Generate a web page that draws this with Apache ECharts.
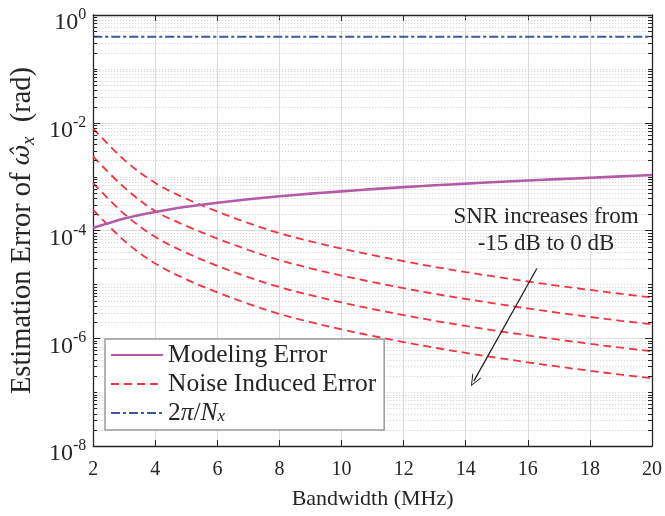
<!DOCTYPE html>
<html><head><meta charset="utf-8">
<script src="https://cdn.jsdelivr.net/npm/echarts@6/dist/echarts.min.js"></script>
<style>html,body{margin:0;padding:0;background:#fff}#c{width:665px;height:516px}</style>
</head><body><div id="c"></div>
<script>
// ---- data ----
const bandwidth = [2,3,4,5,6,7,8,9,10,11,12,13,14,15,16,17,18,19,20];
const modelingError = [1.12e-4,1.67e-4,2.21e-4,2.75e-4,3.28e-4,3.80e-4,4.32e-4,4.83e-4,5.33e-4,5.85e-4,6.38e-4,6.90e-4,7.42e-4,7.95e-4,8.48e-4,9.00e-4,9.52e-4,1.01e-3,1.07e-3];
const noiseSnrM15 = [7.80e-3,2.05e-3,7.59e-4,3.88e-4,2.25e-4,1.374e-4,8.91e-5,6.30e-5,4.61e-5,3.49e-5,2.69e-5,2.11e-5,1.69e-5,1.374e-5,1.13e-5,9.4e-6,7.89e-6,6.68e-6,5.71e-6];
const noiseSnrM10 = [2.34e-3,6.31e-4,2.29e-4,1.216e-4,7.08e-5,4.35e-5,2.82e-5,1.99e-5,1.459e-5,1.104e-5,8.49e-6,6.67e-6,5.35e-6,4.35e-6,3.57e-6,2.97e-6,2.49e-6,2.11e-6,1.82e-6];
const noiseSnrM5 = [7.59e-4,2.02e-4,7.59e-5,3.85e-5,2.21e-5,1.36e-5,8.91e-6,6.30e-6,4.61e-6,3.49e-6,2.69e-6,2.11e-6,1.69e-6,1.374e-6,1.13e-6,9.4e-7,7.89e-7,6.68e-7,5.75e-7];
const noiseSnr0 = [2.41e-4,6.46e-5,2.43e-5,1.236e-5,7.11e-6,4.35e-6,2.82e-6,1.99e-6,1.459e-6,1.104e-6,8.49e-7,6.67e-7,5.35e-7,4.35e-7,3.57e-7,2.97e-7,2.49e-7,2.11e-7,1.82e-7];
const boundValue = 0.3927; // 2*pi/N_x
const xTicks = [2,4,6,8,10,12,14,16,18,20];
const yTickExponents = [0,-2,-4,-6,-8];
const arrowFrom = [16.29, 1.97e-5];
const arrowTo = [14.26, 1.6e-7];

// ---- chart ----
const FONT = "'Liberation Serif','Times New Roman',serif";
const TXT = '#262626';
const xMin = xTicks[0], xMax = xTicks[xTicks.length-1];
const yMinExp = Math.min(...yTickExponents), yMaxExp = Math.max(...yTickExponents);

// decoration lists (grid lines / ticks) built from the tick exponents
const yDecor = [];
for (let e = yMinExp; e <= yMaxExp; e++) {
  const major = yTickExponents.includes(e) ? 1 : 0;
  yDecor.push([xMin, Math.pow(10, e), major]);
  if (e < yMaxExp) for (let k = 2; k <= 9; k++) yDecor.push([xMin, k * Math.pow(10, e), 0]);
}
const pair = arr => bandwidth.map((b, i) => [b, arr[i]]);

function renderGrid(params, api) {
  const v = api.value(1), major = api.value(2);
  if (major && (v === Math.pow(10, yMinExp) || v === Math.pow(10, yMaxExp))) return null;
  const p1 = api.coord([xMin, v]), p2 = api.coord([xMax, v]);
  const y = Math.round(p1[1]) + 0.5;
  return {type:'line', silent:true, shape:{x1:p1[0], y1:y, x2:p2[0], y2:y},
    style: major ? {stroke:'#dcdcdc', lineWidth:1} : {stroke:'#cdcdcd', lineWidth:1, lineDash:[1,2]}};
}
function renderTicks(params, api) {
  const v = api.value(1), major = api.value(2);
  const len = major ? 7 : 4;
  const pl = api.coord([xMin, v]), pr = api.coord([xMax, v]);
  const y = Math.round(pl[1]) + 0.5;
  return {type:'group', silent:true, children:[
    {type:'line', shape:{x1:pl[0], y1:y, x2:pl[0]+len, y2:y}, style:{stroke:TXT, lineWidth:1}},
    {type:'line', shape:{x1:pr[0], y1:y, x2:pr[0]-len, y2:y}, style:{stroke:TXT, lineWidth:1}}
  ]};
}

const RED = '#f5333f', PURPLE = '#b45aa8', BLUE = '#3d56a6';
const redSeries = [noiseSnrM15, noiseSnrM10, noiseSnrM5, noiseSnr0].map(arr => ({
  name:'Noise Induced Error', type:'line', data:pair(arr), symbol:'none', smooth:0.35, z:3,
  lineStyle:{color:RED, width:1.8, type:[8,5]}, itemStyle:{color:RED}
}));

const chevron = 'path://M5,0 L10,12 L9,12 L5,2.5 L1,12 L0,12 Z';

const option = {
  animation:false,
  backgroundColor:'#fff',
  grid:{left:92, right:13, top:15, bottom:70, containLabel:false},
  xAxis:[{
    type:'value', min:xMin, max:xMax, interval:2, position:'bottom',
    axisLine:{show:true, onZero:false, lineStyle:{color:TXT, width:1.3}},
    axisTick:{show:true, inside:true, length:6, lineStyle:{color:TXT, width:1}},
    splitLine:{show:true, lineStyle:{color:'#dcdcdc', width:1}},
    axisLabel:{color:TXT, fontFamily:FONT, fontSize:20, margin:14},
    name:'Bandwidth (MHz)', nameLocation:'middle', nameGap:42,
    nameTextStyle:{color:TXT, fontFamily:FONT, fontSize:22}
  },{
    type:'value', min:xMin, max:xMax, interval:2, position:'top',
    axisLine:{show:true, onZero:false, lineStyle:{color:TXT, width:1.3}},
    axisTick:{show:true, inside:true, length:6, lineStyle:{color:TXT, width:1}},
    splitLine:{show:false}, axisLabel:{show:false}
  }],
  yAxis:[{
    type:'log', logBase:10, min:Math.pow(10,yMinExp), max:Math.pow(10,yMaxExp), splitNumber:8, position:'left',
    axisLine:{show:true, onZero:false, lineStyle:{color:TXT, width:1.3}},
    axisTick:{show:false}, splitLine:{show:false}, minorTick:{show:false},
    axisLabel:{margin:7, padding:[12,0,0,0], formatter: v => {
      const e = Math.round(Math.log10(v));
      return yTickExponents.includes(e) ? '{b|10}{e|' + e + '}' : '';
    }, rich:{
      b:{fontFamily:FONT, fontSize:24, color:TXT, lineHeight:28, verticalAlign:'bottom'},
      e:{fontFamily:FONT, fontSize:16, color:TXT, verticalAlign:'top', lineHeight:15}
    }},
    name:'{t|Estimation Error of }{w|ω̂}{s|x}{t|  (rad)}', nameLocation:'middle', nameRotate:90, nameGap:51,
    nameTextStyle:{rich:{
      t:{fontFamily:FONT, fontSize:28.5, color:TXT, lineHeight:31},
      w:{fontFamily:"'DejaVu Serif',serif", fontSize:25, fontStyle:'italic', color:TXT, lineHeight:31},
      s:{fontFamily:FONT, fontSize:19, fontStyle:'italic', color:TXT, verticalAlign:'bottom', lineHeight:18}
    }}
  },{
    type:'log', logBase:10, min:Math.pow(10,yMinExp), max:Math.pow(10,yMaxExp), position:'right',
    axisLine:{show:true, onZero:false, lineStyle:{color:TXT, width:1.3}},
    axisTick:{show:false}, splitLine:{show:false}, axisLabel:{show:false}
  }],
  legend:{
    orient:'vertical', left:105, top:339,
    data:['Modeling Error','Noise Induced Error','2π/N_x'],
    itemWidth:52, itemHeight:14, itemGap:3,
    padding:[3,8,4,5],
    backgroundColor:'#fff', borderColor:'#9a9a9a', borderWidth:1.5, borderRadius:0,
    selectedMode:false,
    itemStyle:{opacity:0, borderWidth:0},
    textStyle:{fontFamily:FONT, fontSize:25.5, color:TXT, lineHeight:24, rich:{
      n:{fontFamily:FONT, fontSize:25.5, color:TXT, lineHeight:24},
      i:{fontFamily:FONT, fontSize:25.5, fontStyle:'italic', color:TXT, lineHeight:24},
      s:{fontFamily:FONT, fontSize:17, fontStyle:'italic', color:TXT, verticalAlign:'bottom', lineHeight:16}
    }},
    formatter: n => n === '2π/N_x' ? '{n|2}{i|π}{n|/}{i|N}{s|x}' : n
  },
  graphic:[{
    type:'text', x:546, y:230, silent:true, z:10,
    style:{text:'SNR increases from\n-15 dB to 0 dB', fill:TXT, font:'23px ' + FONT,
      align:'center', verticalAlign:'middle', lineHeight:27}
  }],
  series:[
    {type:'custom', name:'grid', data:yDecor, encode:{x:0, y:1}, renderItem:renderGrid, clip:false, z:1, silent:true},
    {type:'custom', name:'ticks', data:yDecor, encode:{x:0, y:1}, renderItem:renderTicks, clip:false, z:6, silent:true},
    {name:'Modeling Error', type:'line', data:pair(modelingError), symbol:'none', smooth:0.2, z:4,
      lineStyle:{color:PURPLE, width:2.6}, itemStyle:{color:PURPLE}},
    ...redSeries,
    {name:'2π/N_x', type:'line', data:bandwidth.map(b => [b, boundValue]), symbol:'none', z:4,
      lineStyle:{color:BLUE, width:2, type:[9,3,3,3]}, itemStyle:{color:BLUE},
      markLine:{silent:true, symbol:['none', chevron], symbolSize:[10,12], label:{show:false},
        lineStyle:{color:'#1a1a1a', width:1.2, type:'solid'}, emphasis:{disabled:true},
        data:[[{coord:arrowFrom}, {coord:arrowTo}]]}}
  ]
};
const chart = echarts.init(document.getElementById('c'), null, {renderer:'canvas'});
chart.setOption(option);
</script>
</body></html>
